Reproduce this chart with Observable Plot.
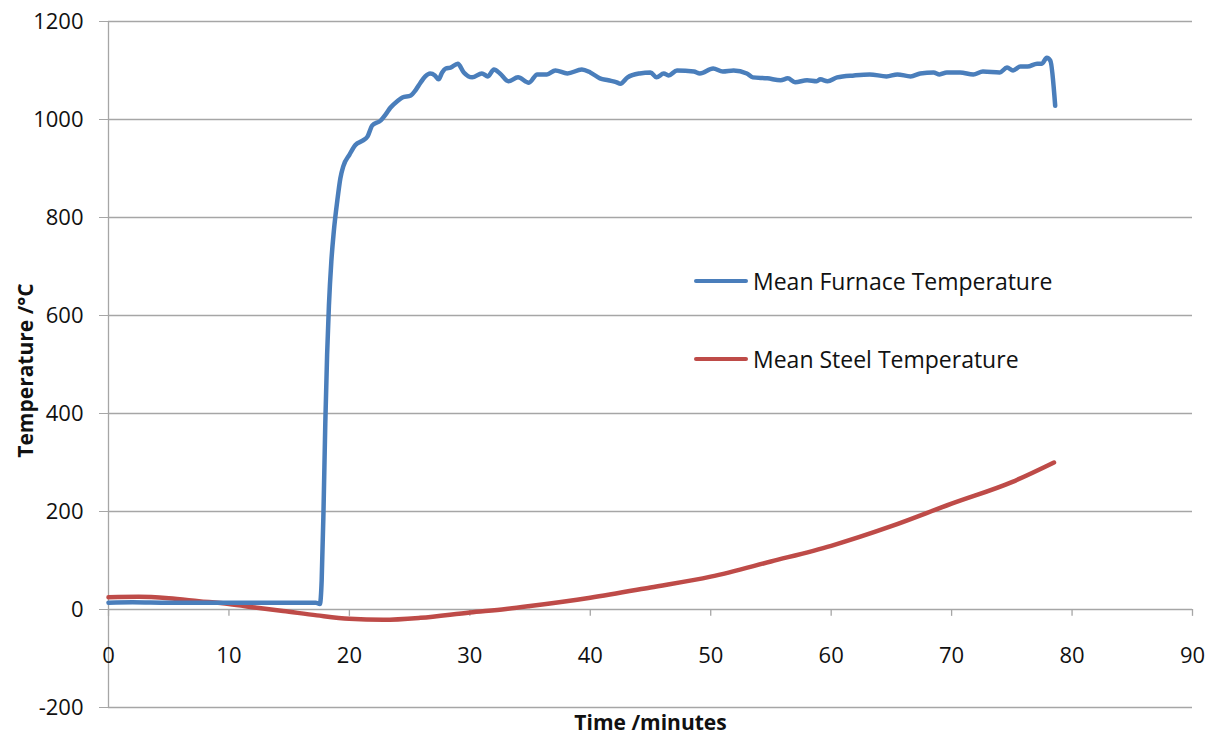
<!DOCTYPE html>
<html>
<head>
<meta charset="utf-8">
<script src="https://cdn.jsdelivr.net/npm/d3@7"></script>
<script src="https://cdn.jsdelivr.net/npm/@observablehq/plot@0.6"></script>
<style>
  body { margin: 0; background: #fff; }
  #wrap { position: relative; width: 1218px; height: 742px; font-family: "Open Sans", Lato, sans-serif; }
  .leg { position: absolute; display: flex; align-items: center; font-size: 23px; color: #111; white-space: nowrap; }
  .leg .sw { width: 54px; height: 4px; border-radius: 2px; margin-right: 5px; }
</style>
</head>
<body>
<div id="wrap"></div>
<script>
const seriesNames = ["Mean Furnace Temperature", "Mean Steel Temperature"];
const seriesColors = ["#4a7ebb", "#be4b48"];

const furnaceTime = [0, 2, 5, 8, 10, 12, 15, 17.2, 17.55, 17.7, 17.85, 18.0, 18.15, 18.3, 18.5, 18.7, 19.0, 19.25, 19.5, 20.0, 20.5, 21.1, 21.5, 21.9, 22.6, 23.0, 23.4, 24.0, 24.4, 25.1, 25.5, 25.9, 26.3, 26.7, 27.1, 27.4, 27.7, 28.0, 28.4, 29.0, 29.5, 30.2, 31.0, 31.5, 32.0, 32.5, 33.2, 34.0, 34.9, 35.6, 36.4, 37.1, 38.1, 39.3, 40.0, 40.8, 41.5, 42.2, 42.5, 43.1, 44.1, 45.0, 45.5, 46.1, 46.5, 47.2, 48.6, 49.1, 50.2, 51.0, 51.9, 53.0, 53.5, 54.7, 55.8, 56.4, 57.0, 58.0, 58.8, 59.1, 59.7, 60.5, 61.9, 63.2, 64.6, 65.5, 66.6, 67.4, 68.5, 69.0, 69.6, 70.7, 71.8, 72.6, 74.0, 74.6, 75.1, 75.7, 76.3, 77.1, 77.5, 77.9, 78.2, 78.6];
const furnaceTemp = [14, 15, 14, 14, 14, 14, 14, 14, 11, 60, 200, 380, 520, 620, 710, 770, 835, 880, 905, 928, 948, 957, 965, 988, 998, 1010, 1024, 1038, 1045, 1049, 1060, 1075, 1088, 1094, 1090, 1082, 1096, 1104, 1106, 1114, 1096, 1086, 1094, 1088, 1102, 1094, 1078, 1086, 1075, 1092, 1092, 1100, 1094, 1102, 1096, 1084, 1080, 1076, 1073, 1086, 1094, 1096, 1086, 1094, 1090, 1100, 1098, 1094, 1104, 1098, 1100, 1094, 1086, 1084, 1080, 1084, 1076, 1080, 1078, 1082, 1078, 1086, 1090, 1092, 1088, 1092, 1088, 1094, 1096, 1092, 1096, 1096, 1092, 1098, 1096, 1106, 1100, 1108, 1108, 1114, 1114, 1126, 1120, 1028];

const steelTime = [0, 2.5, 5, 7.5, 10, 12.5, 14.5, 17.3, 20, 22.8, 25.9, 30, 33, 35, 40, 45, 50, 55, 60, 65, 70, 75, 78.5];
const steelTemp = [25, 26, 23, 17, 11, 3, -3, -12, -19, -21, -17, -6, 1, 7, 24, 45, 67, 98, 130, 170, 216, 260, 300];

const xTicks = [0, 10, 20, 30, 40, 50, 60, 70, 80, 90];
const yTicks = [-200, 0, 200, 400, 600, 800, 1000, 1200];

const furnace = furnaceTime.map((t, i) => ({t, v: furnaceTemp[i]}));
const steel = steelTime.map((t, i) => ({t, v: steelTemp[i]}));

const chart = Plot.plot({
  width: 1218,
  height: 742,
  marginLeft: 108,
  marginRight: 26,
  marginTop: 21,
  marginBottom: 35,
  style: {fontFamily: "'Open Sans', Lato, sans-serif", fontSize: "22px", background: "#fff", color: "#111"},
  x: {domain: [0, 90]},
  y: {domain: [-200, 1200]},
  marks: [
    Plot.ruleY(yTicks, {stroke: "#a6a6a6", strokeWidth: 1.3}),
    Plot.ruleX([0], {stroke: "#a6a6a6", strokeWidth: 1.3}),
    Plot.axisY({ticks: yTicks, tickSize: 9, tickPadding: 16, tickFormat: d => String(d), stroke: "#a6a6a6", fill: "#111", label: null, fontSize: 22}),
    Plot.axisX({ticks: [], label: null}),
    Plot.ruleX(xTicks, {x: d => d, y1: 0, y2: -14, stroke: "#a6a6a6", strokeWidth: 1.3}),
    Plot.text(xTicks, {x: d => d, y: 0, dy: 46, text: d => String(d), fontSize: 22, fill: "#111"}),
    Plot.line(steel, {x: "t", y: "v", stroke: seriesColors[1], strokeWidth: 4.5, curve: "monotone-x"}),
    Plot.line(furnace, {x: "t", y: "v", stroke: seriesColors[0], strokeWidth: 4.5, curve: "monotone-x"}),
    Plot.text(["Temperature /°C"], {frameAnchor: "left", textAnchor: "middle", dx: -82, dy: 6, rotate: -90, fontWeight: "bold", fontSize: 21, fill: "#111"}),
    Plot.text(["Time /minutes"], {frameAnchor: "bottom", textAnchor: "middle", dy: 22, fontWeight: "bold", fontSize: 21, fill: "#111"})
  ]
});
const wrap = document.getElementById("wrap");
wrap.appendChild(chart);

const legTops = [281, 359];
seriesNames.forEach((name, i) => {
  const d = document.createElement("div");
  d.className = "leg";
  d.style.left = "694px";
  d.style.top = (legTops[i] - 15) + "px";
  d.style.height = "30px";
  const sw = document.createElement("span");
  sw.className = "sw";
  sw.style.background = seriesColors[i];
  const tx = document.createElement("span");
  tx.textContent = name;
  d.appendChild(sw);
  d.appendChild(tx);
  wrap.appendChild(d);
});
</script>
</body>
</html>
